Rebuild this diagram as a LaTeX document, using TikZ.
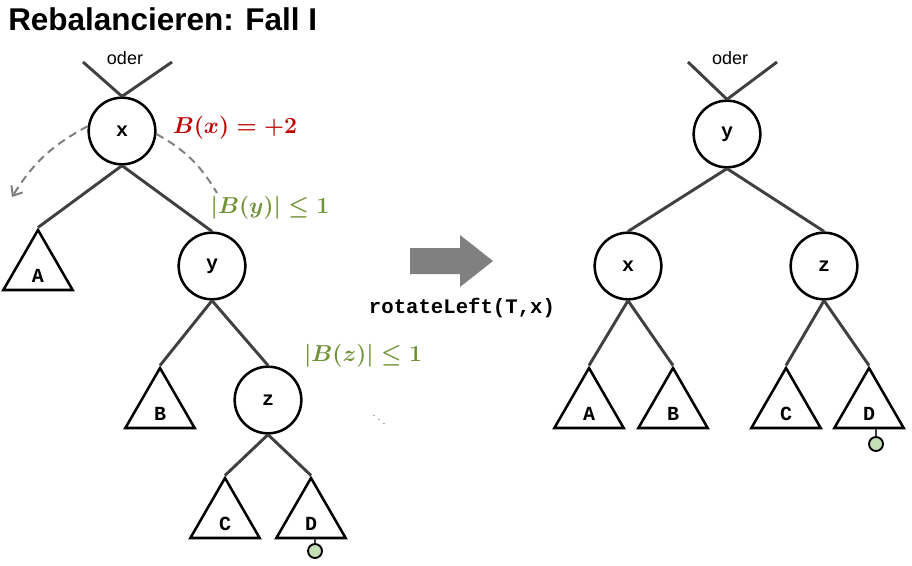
\documentclass[tikz,border=0pt]{standalone}
\usepackage{amsmath,amssymb,bm}
\usepackage{fontspec}
\newfontfamily\arial{Liberation Sans}
\newfontfamily\cour{Liberation Mono}
\usetikzlibrary{arrows,arrows.meta,shapes.geometric}
\definecolor{balred}{RGB}{192,0,0}
\definecolor{balgreen}{RGB}{112,146,56}
\definecolor{dotgreen}{RGB}{70,120,90}
\definecolor{leafgreen}{RGB}{197,224,180}
\definecolor{edgegray}{RGB}{64,64,64}
\definecolor{arrowgray}{RGB}{128,128,128}
\tikzset{
knot/.style={circle,draw=black,line width=1.9pt,minimum size=50pt,inner sep=0pt,font=\cour\bfseries\fontsize{15}{15}\selectfont},
subtree/.style={regular polygon,regular polygon sides=3,draw=black,line width=1.9pt,minimum size=60pt,inner sep=0pt,
  label={[font=\cour\bfseries\fontsize{15}{15}\selectfont,yshift=-4.5pt]center:#1}},
branch/.style={draw=edgegray,line width=2.2pt},
leaf/.style={circle,draw=black,fill=leafgreen,line width=1.4pt,minimum size=10.5pt,inner sep=0pt},
stem/.style={draw=edgegray,line width=1.5pt},
swing/.style={draw=arrowgray,line width=1.5pt,dash pattern=on 6pt off 4pt},
oder/.style={font=\arial\fontsize{13.5}{13.5}\selectfont},
balance/.style={font=\boldmath\fontsize{16.5}{16.5}\selectfont}
}
\begin{document}
\begin{tikzpicture}[x=0.75pt,y=-0.75pt]
\useasboundingbox (0,0) rectangle (912,565);
\node[anchor=base west,inner sep=0pt,font=\arial\bfseries\fontsize{23.6}{23.6}\selectfont] (title) at (8,30) {Rebalancieren: Fall I};

\node[knot] (xL) at (122,131) {x};
\node[knot] (yL) at (212,266) {y};
\node[knot] (zL) at (268,400) {z};
\node[subtree=A] (AL) at (38,270) {};
\node[subtree=B] (BL) at (160,408) {};
\node[subtree=C] (CL) at (225,518) {};
\node[subtree=D] (DL) at (311,518) {};
\node[leaf] (leafL) at (315,551) {};
\node[oder] (oderL) at (125,58) {oder};
\coordinate (topLa) at (83,62);
\coordinate (topLb) at (172,62);
\draw[branch] (topLa) -- (xL.north);
\draw[branch] (topLb) -- (xL.north);
\draw[branch] (xL.south) -- (AL.corner 1);
\draw[branch] (xL.south) -- (yL.north);
\draw[branch] (yL.south) -- (BL.corner 1);
\draw[branch] (yL.south) -- (zL.north);
\draw[branch] (zL.south) -- (CL.corner 1);
\draw[branch] (zL.south) -- (DL.corner 1);
\draw[stem] (leafL.north) -- (leafL |- DL.south);

\coordinate (swingL) at (12,197);
\coordinate (swingR) at (217,193);
\draw[swing,-{Straight Barb[length=6pt,width=10pt]}] (xL.172) to[bend right=15] (swingL);
\draw[swing] (xL.-5) to[bend left=15] (swingR);
\node[balance,text=balred] (Bx) at (235,128) {$B(x)=+2$};
\node[balance,text=balgreen] (By) at (270,208) {$|B(y)|\leq 1$};
\node[balance,text=balgreen] (Bz) at (363,356) {$|B(z)|\leq 1$};
\node[text=dotgreen,font=\boldmath\fontsize{9}{9}\selectfont] (dots) at (379,416) {$\ddots$};

\fill[arrowgray] (410,248) -- (460,248) -- (460,235) -- (493,261) -- (460,287) -- (460,274) -- (410,274) -- cycle;
\node[font=\cour\bfseries\fontsize{15.5}{15.5}\selectfont] (rot) at (462,308) {rotateLeft(T,x)};

\node[knot] (yR) at (727,134) {y};
\node[knot] (xR) at (628,266) {x};
\node[knot] (zR) at (824,266) {z};
\node[subtree=A] (AR) at (589,408) {};
\node[subtree=B] (BR) at (673,408) {};
\node[subtree=C] (CR) at (786,408) {};
\node[subtree=D] (DR) at (869,408) {};
\node[leaf] (leafR) at (876,444) {};
\node[oder] (oderR) at (730,58) {oder};
\coordinate (topRa) at (688,62);
\coordinate (topRb) at (777,62);
\draw[branch] (topRa) -- (yR.north);
\draw[branch] (topRb) -- (yR.north);
\draw[branch] (yR.south) -- (xR.north);
\draw[branch] (yR.south) -- (zR.north);
\draw[branch] (xR.south) -- (AR.corner 1);
\draw[branch] (xR.south) -- (BR.corner 1);
\draw[branch] (zR.south) -- (CR.corner 1);
\draw[branch] (zR.south) -- (DR.corner 1);
\draw[stem] (leafR.north) -- (leafR |- DR.south);
\end{tikzpicture}
\end{document}
